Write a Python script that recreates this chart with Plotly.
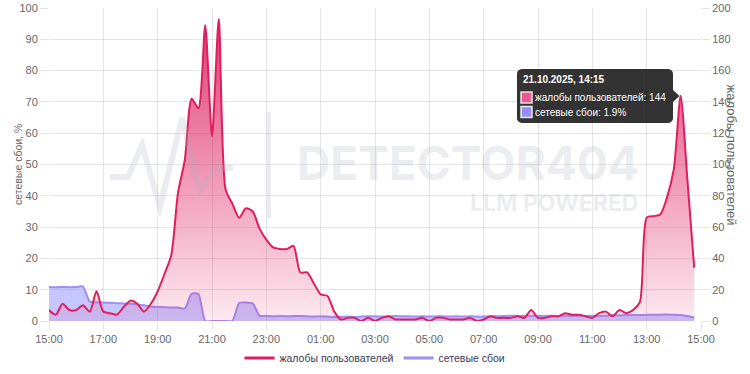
import pandas as pd
import plotly.graph_objects as go

# ---------------- data (15-minute samples) ----------------
start = "2025-10-20 15:00"
times = pd.date_range(start, periods=96, freq="15min")

complaints = [
    7, 4, 11, 7, 7, 10, 6, 19, 6, 5, 4, 9, 13, 11, 6, 11,
    19, 30, 42, 82, 103, 142, 136, 189, 118, 193, 84, 75, 66, 72, 70, 59,
    52, 47, 46, 46, 48, 31, 31, 24, 17, 16, 6, 1, 2, 2, 0, 2,
    0, 2, 3, 1, 1, 1, 1, 2, 0, 2, 2, 1, 1, 1, 2, 0,
    1, 3, 2, 2, 2, 3, 2, 7, 2, 2, 3, 3, 5, 4, 4, 3,
    2, 5, 6, 3, 7, 5, 7, 12, 66, 67, 68, 79, 97, 144, 90, 34,
]

network = [
    10.9, 10.8, 10.9, 10.8, 10.9, 11.0, 6.2, 6.0, 5.9, 5.8, 5.7, 5.6, 5.5, 5.3, 5.0, 4.6,
    4.5, 4.4, 4.3, 4.3, 4.0, 8.7, 8.6, 0, 0, 0, 0, 0, 5.8, 5.9, 5.6, 1.7,
    1.6, 1.5, 1.6, 1.5, 1.6, 1.6, 1.5, 1.4, 1.5, 1.4, 1.3, 1.3, 1.4, 1.3, 1.4, 1.5,
    1.5, 1.4, 1.5, 1.6, 1.5, 1.5, 1.4, 1.5, 1.4, 1.5, 1.5, 1.4, 1.5, 1.4, 1.5, 1.4,
    1.4, 1.5, 1.5, 1.6, 1.7, 1.6, 1.6, 1.7, 1.6, 1.6, 1.7, 1.6, 1.7, 1.6, 1.7, 1.6,
    1.7, 1.6, 1.7, 1.8, 1.8, 1.9, 1.9, 1.9, 2.0, 2.0, 2.0, 2.1, 2.0, 1.9, 1.6, 1.1,
]

name_c = "жалобы пользователей"
name_n = "сетевые сбои"
left_title = "сетевые сбои, %"
right_title = "жалобы пользователей"
tip_index = 93

# ---------------- styles ----------------
RED = "rgb(224,30,94)"
PURPLE = "rgb(160,140,245)"
GRID = "rgba(0,0,0,0.1)"
FAM = "Liberation Sans, Arial, sans-serif"
TICK_FONT = dict(family=FAM, size=11, color="#666")

W, H = 750, 374
L, R, T, B = 49, 49, 8, 53


def px(xp, yp):
    return (xp - L) / (W - L - R), (H - B - yp) / (H - T - B)


def path_of(points, close=False):
    s = ""
    for i, (a, b) in enumerate(points):
        xp, yp = px(a, b)
        s += ("M" if i == 0 else "L") + f"{xp:.5f},{yp:.5f} "
    return s + ("Z" if close else "")


def rounded_rect(x0, y0, x1, y1, r):
    import math
    pts = []
    corners = [(x1 - r, y0 + r, -90), (x1 - r, y1 - r, 0), (x0 + r, y1 - r, 90), (x0 + r, y0 + r, 180)]
    for cx, cy, a0 in corners:
        for k in range(7):
            a = math.radians(a0 + k * 15)
            pts.append((cx + r * math.cos(a), cy + r * math.sin(a)))
    return path_of(pts, close=True)


fig = go.Figure()

fig.add_trace(go.Scatter(
    x=times, y=complaints, yaxis="y2", name=name_c, showlegend=False,
    mode="lines", line=dict(color=RED, width=2, shape="spline", smoothing=0.7),
    fill="tozeroy",
    fillgradient=dict(type="vertical", start=0, stop=200,
                      colorscale=[[0, "rgba(230,40,100,0.1)"], [1, "rgba(215,30,95,0.9)"]]),
    hoverinfo="skip",
))
fig.add_trace(go.Scatter(
    x=times, y=network, yaxis="y", name=name_n, showlegend=False,
    mode="lines", line=dict(color=PURPLE, width=2, shape="spline", smoothing=0.6),
    fill="tozeroy", fillcolor="rgba(130,130,255,0.45)",
    hoverinfo="skip",
))
# legend entries (line only)
fig.add_trace(go.Scatter(x=[None], y=[None], mode="lines", name=name_c,
                         line=dict(color=RED, width=3)))
fig.add_trace(go.Scatter(x=[None], y=[None], mode="lines", name=name_n,
                         line=dict(color=PURPLE, width=3)))

x_end = times[0] + pd.Timedelta(hours=24)

fig.update_layout(
    width=W, height=H,
    margin=dict(l=L, r=R, t=T, b=B, autoexpand=False),
    paper_bgcolor="white", plot_bgcolor="white",
    hovermode=False,
    xaxis=dict(type="date", range=[times[0], x_end], tick0=times[0], dtick=2 * 3600 * 1000,
               tickformat="%H:%M", showgrid=True, gridcolor=GRID, gridwidth=1,
               ticks="outside", ticklen=8, tickcolor=GRID, tickfont=TICK_FONT,
               zeroline=False, showline=False),
    yaxis=dict(range=[0, 100], dtick=10, side="left", showgrid=True, gridcolor=GRID,
               ticks="outside", ticklen=8, tickcolor=GRID, tickfont=TICK_FONT,
               zeroline=False, showline=False),
    yaxis2=dict(range=[0, 200], dtick=20, side="right", overlaying="y", showgrid=False,
                ticks="outside", ticklen=8, tickcolor=GRID, tickfont=TICK_FONT,
                zeroline=False, showline=False),
    legend=dict(orientation="h", x=0.5, xanchor="center", yref="container",
                y=1 - 358 / H, yanchor="middle",
                font=dict(family=FAM, size=10.5, color="#3a3a55"),
                itemwidth=30),
    font=dict(family=FAM),
)

# axis titles
ax, ay = px(10, 165)
fig.add_annotation(xref="paper", yref="paper", x=ax, y=ay, text=left_title, textangle=-90,
                   showarrow=False, font=dict(size=10.5, color="#666"))
ax, ay = px(741, 155)
fig.add_annotation(xref="paper", yref="paper", x=ax, y=ay, text=right_title, textangle=90,
                   showarrow=False, font=dict(size=13, color="#666"))

# watermark
WM = "rgba(170,175,190,0.24)"
zig = [(110, 177), (128, 177), (142, 145), (160, 207), (182, 118), (200, 190), (215, 168), (233, 168)]
fig.add_shape(type="path", xref="paper", yref="paper", path=path_of(zig),
              line=dict(color=WM, width=6), layer="above")
x0, y0 = px(269, 112)
x1, y1 = px(269, 218)
fig.add_shape(type="line", xref="paper", yref="paper", x0=x0, y0=y0, x1=x1, y1=y1,
              line=dict(color=WM, width=4), layer="above")
tx, ty = px(468, 163)
fig.add_annotation(xref="paper", yref="paper", x=tx, y=ty, text="<b>DETECTOR404</b>",
                   showarrow=False, font=dict(family="Inter, Roboto, sans-serif", size=46, color=WM))
tx, ty = px(640, 203)
fig.add_annotation(xref="paper", yref="paper", x=tx, y=ty, xanchor="right", text="<b>LLM POWERED</b>",
                   showarrow=False, font=dict(family="Inter, Roboto, sans-serif", size=23, color=WM))

# tooltip (box, pointer, swatches, texts)
TIP_BG = "rgba(0,0,0,0.8)"
fig.add_shape(type="path", xref="paper", yref="paper", path=rounded_rect(517, 69, 673, 123, 5),
              fillcolor=TIP_BG, line=dict(width=0), layer="above")
fig.add_shape(type="path", xref="paper", yref="paper",
              path=path_of([(673, 90), (679.5, 96), (673, 102)], close=True),
              fillcolor=TIP_BG, line=dict(width=0), layer="above")
for (yc, col) in [(97.5, "rgb(232,90,140)"), (112, "rgb(150,140,250)")]:
    a0, b0 = px(521, yc - 5.5)
    a1, b1 = px(532, yc + 5.5)
    fig.add_shape(type="rect", xref="paper", yref="paper", x0=a0, y0=b0, x1=a1, y1=b1,
                  fillcolor=col, line=dict(color="rgba(255,255,255,0.85)", width=1.5), layer="above")

t = times[tip_index]
tip_rows = [
    (521, 79.5, f"<b>{t:%d.%m.%Y, %H:%M}</b>"),
    (533, 97.5, f"{name_c}: {complaints[tip_index]}"),
    (533, 112.5, f"{name_n}: {network[tip_index]}%"),
]
for xx, yy, txt in tip_rows:
    a, b = px(xx, yy)
    fig.add_annotation(xref="paper", yref="paper", x=a, y=b, xanchor="left", yanchor="middle",
                       text=txt, showarrow=False,
                       font=dict(family=FAM, size=10, color="white"))

fig.write_html("out.html", config={"displayModeBar": False},
               post_script="document.body.style.margin='0';")
